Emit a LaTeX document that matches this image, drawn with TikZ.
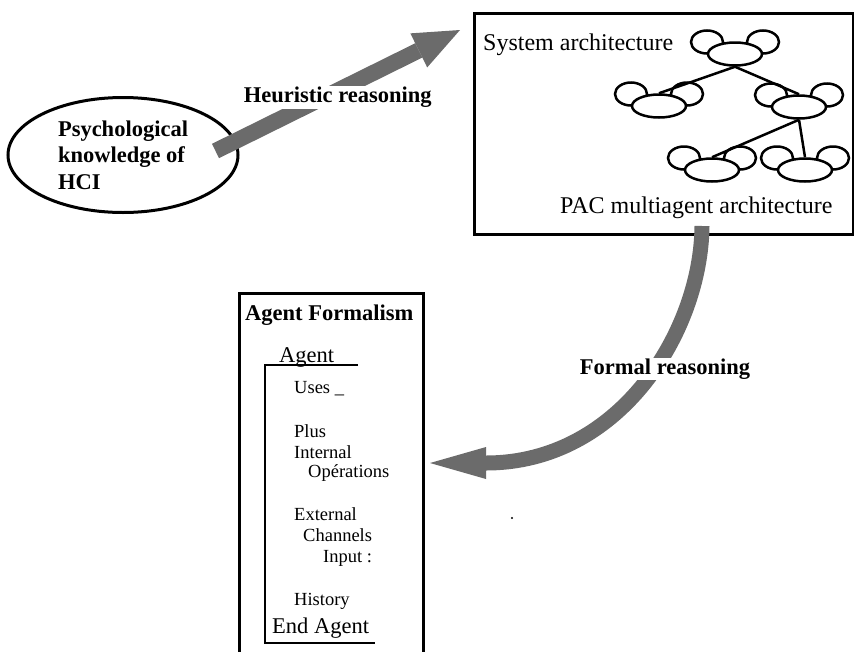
\documentclass[tikz,border=0pt]{standalone}
\usepackage{fontspec}
\setmainfont{Liberation Serif}
\usetikzlibrary{shapes.geometric,arrows.meta,calc}

\pgfdeclarelayer{back}
\pgfsetlayers{back,main}

\tikzset{
  heavy/.style={draw=black!58, line width=16pt},
  bigtag/.style={font=\fontsize{22.5}{27}\selectfont\bfseries, fill=white, inner sep=1pt},
  title/.style={font=\fontsize{22.5}{27}\selectfont\bfseries, inner sep=0pt, anchor=base west},
  plain/.style={font=\fontsize{24}{28}\selectfont, inner sep=0pt, anchor=base west},
  mid/.style={font=\fontsize{22.5}{27}\selectfont, inner sep=0pt, anchor=base west},
  small/.style={font=\fontsize{18.5}{21}\selectfont, inner sep=0pt, anchor=base west},
  frame/.style={draw, line width=3pt, inner sep=0pt, anchor=north west},
  pacbody/.style={ellipse, draw, fill=white, line width=2.5pt, minimum width=54pt, minimum height=23pt, inner sep=0pt},
  pacear/.style={draw, fill=white, line width=2.5pt}
}

\begin{document}
\begin{tikzpicture}[x=1pt, y=-1pt]
  \useasboundingbox (0,0) rectangle (854,651);
  \clip (0,0) rectangle (854,651);

  % where the heuristics come from
  \node[ellipse, draw, line width=3pt, minimum width=230pt, minimum height=115pt,
        align=left, inner sep=0pt, font=\fontsize{22.5}{26.5}\selectfont\bfseries]
        (psych) at (123,155) {Psychological\\knowledge of\\HCI};

  % system architecture
  \node[frame, minimum width=379pt, minimum height=221pt] (sysbox) at (473,12) {};
  \node[plain] (systitle) at (483,50) {System architecture};
  \node[plain] (pactitle) at (560,213) {PAC multiagent architecture};

  % PAC agents: body plus two ears
  \foreach \n/\x/\y in {top/735/54, ml/659/106, mr/799/107, bl/712/170, br/805/170} {
    \node[pacbody] (\n) at (\x,\y) {};
    \begin{pgfonlayer}{back}
      \draw[pacear] (\x-28,\y-12) ellipse [x radius=16pt, y radius=11.5pt];
      \draw[pacear] (\x+28,\y-12) ellipse [x radius=16pt, y radius=11.5pt];
    \end{pgfonlayer}
  }
  \begin{pgfonlayer}{back}
    \draw[line width=2.5pt]
      (top.south) -- (ml.north)
      (top.south) -- (mr.north)
      (mr.south) -- (bl.north)
      (mr.south) -- (br.north);
  \end{pgfonlayer}

  % heuristic reasoning
  \coordinate (htip) at (460,30);
  \draw[heavy, -{Triangle[length=46pt, width=38pt, line width=0pt]}]
    ($(psych.east)+(-24,-4)$) -- node[bigtag, yshift=-7pt] (heur) {Heuristic reasoning} (htip);

  % agent formalism
  \node[frame, minimum width=184pt, minimum height=420pt] (formalism) at (238,292) {};
  \node[title] (ftitle) at (245,320) {Agent Formalism};
  \node[mid] (agent) at (279,362) {Agent};
  \draw[line width=2pt] (358,365) -- (265,365) -- (265,643) -- (375,643);
  \node[small] (uses) at (294,393) {Uses \_};
  \node[small] (plus) at (294,437) {Plus};
  \node[small] (intern) at (294,458) {Internal};
  \node[small] (ops) at (308,477) {Opérations};
  \node[small] (extern) at (294,520) {External};
  \node[small] (chan) at (303,541) {Channels};
  \node[small] (input) at (323,562) {Input :};
  \node[small] (hist) at (294,605) {History};
  \node[mid] (endagent) at (272,633) {End Agent};

  % formal reasoning
  \coordinate (ftip) at (430,463);
  \draw[heavy, line width=15pt, -{Triangle[length=56pt, width=32pt, line width=0pt]}]
    ($(sysbox.south)+(38,-10)$) .. controls +(-1,105) and +(190,0) .. (ftip);
  \node[bigtag] (formal) at (665,369) {Formal reasoning};

  \fill (512,518) circle (1.2pt);
\end{tikzpicture}
\end{document}
